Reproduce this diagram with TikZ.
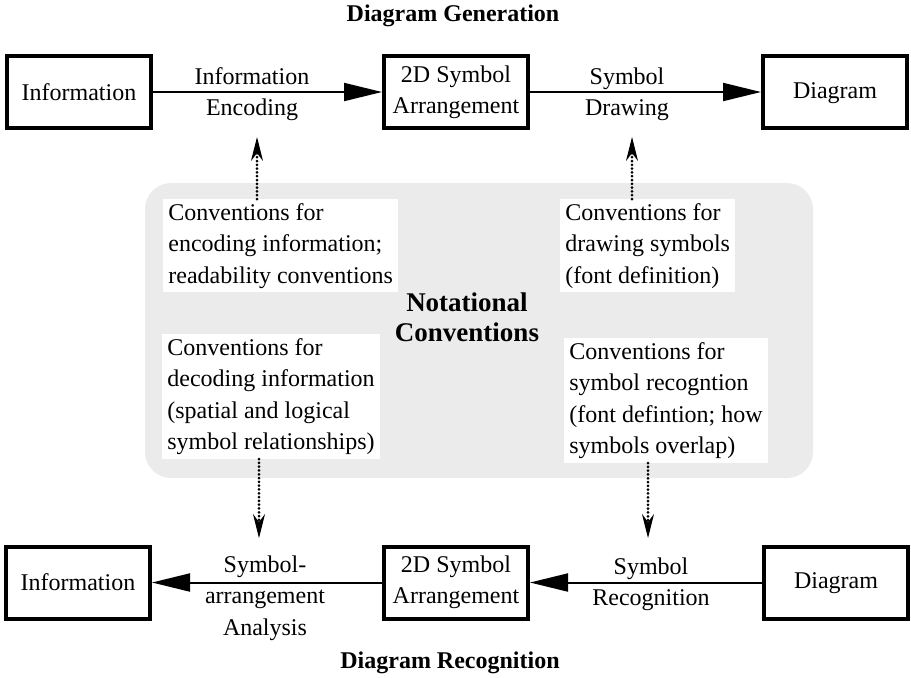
\documentclass[tikz,border=0pt]{standalone}
\usepackage{fontspec}
\setmainfont{Liberation Serif}
\usetikzlibrary{arrows.meta,positioning}
\tikzset{
stagebox/.style={draw, line width=2pt, minimum width=72pt, minimum height=36pt, align=center, inner sep=0pt}, % the six stage boxes
note/.style={fill=white, align=left, inner xsep=2.5pt, inner ysep=2pt}, % white convention blocks
steplabel/.style={align=center, inner sep=0pt},
flow/.style={line width=1pt, -{Triangle[length=19pt,width=9pt]}},
conv/.style={line width=1.5pt, dash pattern=on 0pt off 1.9pt, line cap=round, -{Stealth[length=12pt,width=6pt,inset=4pt,line width=0.5pt]}},
heading/.style={font=\fontsize{12}{15}\selectfont\bfseries},
}

\begin{document}
\begin{tikzpicture}[x=0.5pt,y=0.5pt,yscale=-1,xscale=1,font=\fontsize{12}{15.7}\selectfont]
\useasboundingbox (0,0) rectangle (911,677);
%Shaded Rounded Rect
\fill[black!8, rounded corners=13pt] (145,183) rectangle (813,478);
%Stage boxes
\node[stagebox] (infoA) at (79,92) {Information};
\node[stagebox] (arrA) at (456,92) {2D Symbol\\Arrangement};
\node[stagebox] (diagA) at (835,92) {\strut Diagram};
\node[stagebox] (infoB) at (78,582.5) {Information};
\node[stagebox] (arrB) at (456,582.5) {2D Symbol\\Arrangement};
\node[stagebox] (diagB) at (836,582.5) {\strut Diagram};
%Straight Lines
\draw[flow] (infoA) -- (arrA);
\draw[flow] (arrA) -- (diagA);
\draw[flow] (diagB) -- (arrB);
\draw[flow] (arrB) -- (infoB);
%Convention blocks
\node[note, anchor=north west] (encnote) at (163,199) {Conventions for\\encoding information;\\readability conventions};
\node[note, anchor=north west] (drwnote) at (560,199) {Conventions for\\drawing symbols\\(font definition)};
\node[note, anchor=north west] (decnote) at (162,334) {Conventions for\\decoding information\\(spatial and logical\\symbol relationships)};
\node[note, anchor=north west] (recnote) at (564,338) {Conventions for\\symbol recogntion\\(font defintion; how\\symbols overlap)};
%Dotted Lines
\coordinate (encup) at (257,137);
\coordinate (drwup) at (632,137);
\coordinate (decdn) at (259,538);
\coordinate (recdn) at (648,538);
\draw[conv] (encnote.north -| encup) -- (encup);
\draw[conv] (drwnote.north -| drwup) -- (drwup);
\draw[conv] (decnote.south -| decdn) -- (decdn);
\draw[conv] (recnote.south -| recdn) -- (recdn);
%Labels
\node[steplabel] (enclbl) at (252,94) {Information\\Encoding};
\node[steplabel] (drwlbl) at (627,94) {Symbol\\Drawing};
\node[steplabel] (reclbl) at (651,584) {Symbol\\Recognition};
\node[steplabel] (analbl) at (265,598) {Symbol-\\arrangement\\Analysis};
\node[heading] (gentitle) at (453,16) {Diagram Generation};
\node[heading] (rectitle) at (450,663) {Diagram Recognition};
\node[align=center, font=\fontsize{13.5}{15}\selectfont\bfseries] (notation) at (467,317) {Notational\\Conventions};
\end{tikzpicture}
\end{document}
